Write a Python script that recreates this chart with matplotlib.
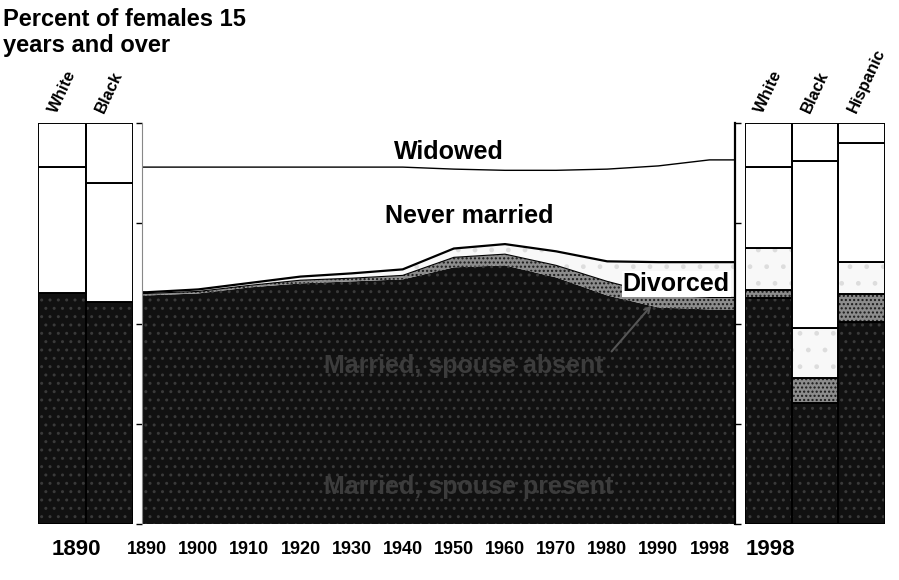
import numpy as np
import matplotlib.pyplot as plt

plt.rcParams['font.family'] = ['Liberation Sans', 'DejaVu Sans']
plt.rcParams['font.weight'] = 'bold'

# middle panel: all females 15+, percent
years = [1890, 1900, 1910, 1920, 1930, 1940, 1950, 1960, 1970, 1980, 1990, 1998]
present = [57.0, 57.5, 59.0, 60.0, 60.5, 61.0, 64.0, 64.5, 61.5, 57.0, 54.0, 53.5]
absent = [0.5, 0.5, 0.5, 0.8, 0.8, 1.0, 2.5, 2.8, 3.0, 3.5, 3.2, 3.0]
divorced = [0.3, 0.5, 0.6, 0.9, 1.2, 1.5, 2.2, 2.5, 3.5, 5.0, 8.1, 8.8]
never = [31.2, 30.5, 28.9, 27.3, 26.5, 25.5, 19.8, 18.4, 20.2, 23.0, 24.0, 25.5]
widowed = [11.0, 11.0, 11.0, 11.0, 11.0, 11.0, 11.5, 11.8, 11.8, 11.5, 10.7, 9.2]

# left panel: 1890 by race
race_1890 = ['White', 'Black']
present_1890 = [57.6, 55.4]
absent_1890 = [0.0, 0.0]
divorced_1890 = [0.0, 0.0]
never_1890 = [31.4, 29.6]
widowed_1890 = [11.0, 15.0]

# right panel: 1998 by race
race_1998 = ['White', 'Black', 'Hispanic']
present_1998 = [56.4, 30.2, 50.4]
absent_1998 = [2.0, 6.2, 7.0]
divorced_1998 = [10.5, 12.6, 7.9]
never_1998 = [20.1, 41.5, 29.7]
widowed_1998 = [11.0, 9.5, 5.0]

# face, hatch, hatch colour for each layer (bottom to top)
styles = [
    ('#111111', '..', '#3a3a3a'),
    ('#8c8c8c', '....', '#1a1a1a'),
    ('#f8f8f8', '.', '#dddddd'),
    ('white', '', 'white'),
    ('white', '', 'white'),
]

fig = plt.figure(figsize=(8.99, 5.80), dpi=100)
W, H = 899, 580


def box(x0, x1, y0=123, y1=524):
    return [x0 / W, 1 - y1 / H, (x1 - x0) / W, (y1 - y0) / H]


ax_l = fig.add_axes(box(38, 133))
ax_m = fig.add_axes(box(142, 735))
ax_r = fig.add_axes(box(745, 885))


def stack_bars(ax, names, layers):
    x = np.arange(len(names))
    bottom = np.zeros(len(names))
    for vals, (fc, hatch, hc) in zip(layers, styles):
        vals = np.asarray(vals)
        ax.bar(x, vals, 1.0, bottom=bottom, color=fc, hatch=hatch, edgecolor=hc, linewidth=0)
        ax.bar(x, vals, 1.0, bottom=bottom, facecolor='none', edgecolor='black', linewidth=1.4)
        bottom += vals
    ax.set_xlim(-0.5, len(names) - 0.5)
    ax.set_ylim(0, 100)
    ax.set_yticks([])
    for s in ax.spines.values():
        s.set_visible(False)
    for i, name in enumerate(names):
        ax.text(i - 0.05, 102, name, rotation=65, rotation_mode='anchor',
                ha='left', va='bottom', fontsize=12, fontweight='bold', clip_on=False)


stack_bars(ax_l, race_1890, [present_1890, absent_1890, divorced_1890, never_1890, widowed_1890])
stack_bars(ax_r, race_1998, [present_1998, absent_1998, divorced_1998, never_1998, widowed_1998])

ax_l.set_xticks([0.3], ['1890'], fontsize=16)
ax_r.set_xticks([0.05], ['1998'], fontsize=16)
for ax in (ax_l, ax_r):
    ax.tick_params(axis='x', length=0, pad=11)

# middle stacked area
pos = np.arange(len(years))
x0, x1 = -0.1, 11.5
xs = np.r_[x0, pos, x1]
cum = np.zeros(len(xs))
line_w = [0, 0.8, 1.6, 1.0, 0]
for vals, (fc, hatch, hc), lw in zip([present, absent, divorced, never, widowed], styles, line_w):
    top = cum + np.r_[vals[0], vals, vals[-1]]
    ax_m.fill_between(xs, cum, top, facecolor=fc, hatch=hatch, edgecolor=hc, linewidth=0)
    if lw:
        ax_m.plot(xs, top, color='black', lw=lw)
    cum = top

ax_m.set_xlim(x0, x1)
ax_m.set_ylim(0, 100)
ax_m.set_xticks(pos, [str(y) for y in years], fontsize=13)
ax_m.tick_params(axis='x', length=0, pad=12)
ax_m.set_yticks([0, 25, 50, 75, 100], [])
ax_m.tick_params(axis='y', left=True, right=True, length=4, width=1, direction='out')
ax_m.spines['top'].set_visible(False)
ax_m.spines['bottom'].set_visible(False)
ax_m.spines['left'].set_color('#888888')
ax_m.spines['left'].set_linewidth(0.8)
ax_m.spines['right'].set_linewidth(1.6)

lab = dict(fontsize=18, fontweight='bold', ha='center', va='center')
ax_m.text(5.9, 92.8, 'Widowed', **lab)
ax_m.text(6.3, 76.8, 'Never married', **lab)
ax_m.text(11.4, 59.8, 'Divorced', fontsize=18, fontweight='bold', ha='right', va='center',
          bbox=dict(facecolor='white', edgecolor='none', pad=0.5))
ax_m.text(6.2, 39.4, 'Married, spouse absent', color='#3c3c3c', **lab)
ax_m.text(6.3, 9.2, 'Married, spouse present', color='#3c3c3c', **lab)
ax_m.annotate('', xy=(9.9, 55), xytext=(9.05, 42.5),
              arrowprops=dict(arrowstyle='->', color='#555555', lw=1.5))

fig.text(3 / W, 1 - 8 / H, 'Percent of females 15\nyears and over', va='top', ha='left',
         fontsize=17, fontweight='bold', linespacing=1.15)

fig.savefig('out.png', dpi=100)
